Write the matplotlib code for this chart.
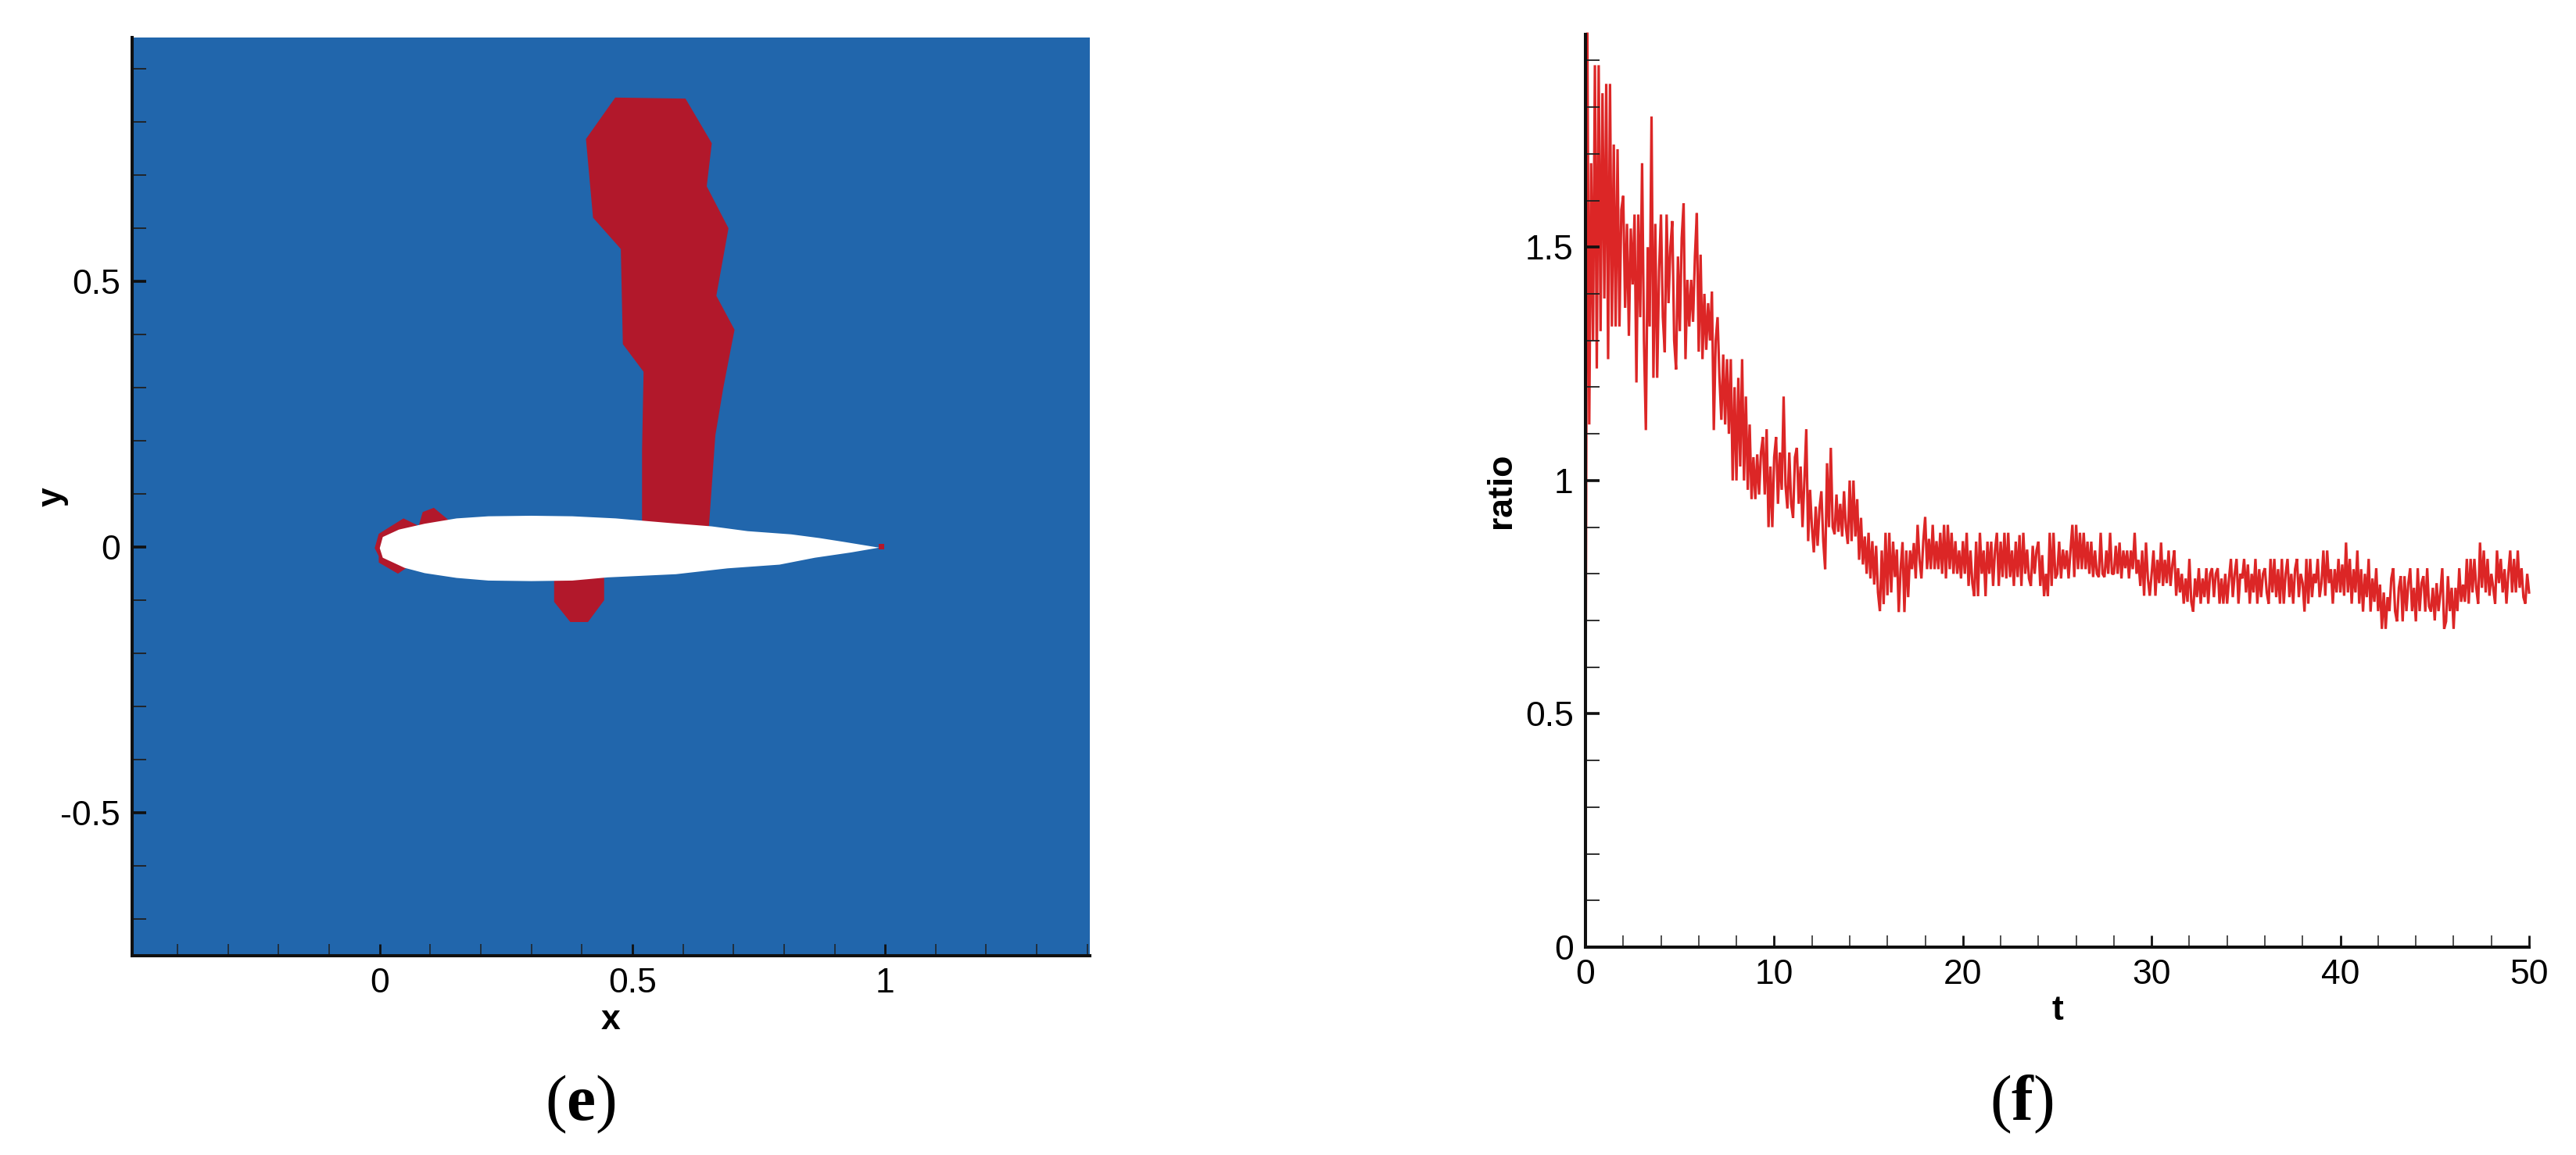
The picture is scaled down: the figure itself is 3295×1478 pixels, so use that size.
import numpy as np
from matplotlib import pyplot as plt
from matplotlib.ticker import FixedLocator

plt.rcParams['font.family'] = ['Liberation Sans', 'DejaVu Sans']
plt.rcParams['mathtext.fontset'] = 'custom'
plt.rcParams['mathtext.rm'] = 'Liberation Serif'
plt.rcParams['mathtext.bf'] = 'Liberation Serif:bold'

# left panel, contour regions in x/c, y/c
plume_x = [0.466, 0.605, 0.657, 0.647, 0.690, 0.666, 0.702, 0.680, 0.664, 0.651, 0.519, 0.519, 0.522, 0.481, 0.477, 0.422, 0.408]
plume_y = [0.846, 0.844, 0.760, 0.679, 0.600, 0.473, 0.409, 0.301, 0.210, 0.034, 0.034, 0.182, 0.330, 0.382, 0.561, 0.620, 0.768]
nose_x = [-0.010, -0.002, 0.047, 0.077, 0.085, 0.107, 0.136, 0.057, 0.053, 0.036, -0.002, -0.002]
nose_y = [-0.002, 0.025, 0.054, 0.040, 0.066, 0.074, 0.051, 0.000, -0.039, -0.050, -0.029, -0.017]
lower_x = [0.345, 0.345, 0.377, 0.412, 0.444, 0.444]
lower_y = [-0.059, -0.103, -0.141, -0.141, -0.100, -0.056]
tail_x = [0.988, 0.998, 0.998, 0.988]
tail_y = [-0.004, -0.004, 0.006, 0.006]
foil_x = [0.000, 0.006, 0.038, 0.089, 0.152, 0.215, 0.300, 0.381, 0.467, 0.578, 0.657, 0.728, 0.814, 0.870, 0.917, 0.988,
          0.933, 0.861, 0.791, 0.688, 0.586, 0.451, 0.381, 0.300, 0.215, 0.152, 0.089, 0.049, 0.006]
foil_y = [-0.002, 0.019, 0.033, 0.044, 0.054, 0.058, 0.059, 0.058, 0.054, 0.045, 0.039, 0.030, 0.024, 0.017, 0.010, -0.001,
          -0.010, -0.020, -0.033, -0.040, -0.051, -0.057, -0.063, -0.064, -0.063, -0.058, -0.049, -0.039, -0.020]

# right panel, one value every 0.1 in t
ratio = [
    .40, 1.96, 1.12, 1.68, 1.30, 1.89, 1.24, 1.89, 1.32, 1.83,
    1.39, 1.85, 1.26, 1.85, 1.33, 1.72, 1.33, 1.71, 1.33, 1.58,
    1.61, 1.37, 1.55, 1.31, 1.54, 1.42, 1.57, 1.21, 1.57, 1.35,
    1.68, 1.30, 1.108, 1.50, 1.33, 1.78, 1.22, 1.55, 1.22, 1.45,
    1.57, 1.35, 1.275, 1.57, 1.38, 1.50, 1.556, 1.30, 1.238, 1.48,
    1.32, 1.52, 1.594, 1.26, 1.43, 1.33, 1.43, 1.34, 1.48, 1.573,
    1.276, 1.484, 1.26, 1.40, 1.28, 1.38, 1.30, 1.405, 1.108, 1.30,
    1.35, 1.22, 1.13, 1.27, 1.12, 1.26, 1.10, 1.26, 1.00, 1.20,
    1.00, 1.22, 1.03, 1.26, 1.00, 1.18, .98, 1.12, .96, 1.05,
    .96, 1.056, .97, 1.06, 1.093, .97, 1.11, .90, 1.03, .90,
    1.05, 1.093, .95, 1.06, .98, 1.18, .99, .94, 1.06, .95,
    .92, 1.05, 1.07, .95, 1.03, .90, 1.00, 1.11, .87, .98,
    .90, .846, .944, .86, .94, .977, .87, .81, 1.037, .90,
    1.07, .90, .885, .97, .89, .95, .88, .977, .90, .864,
    1.00, .87, 1.00, .88, .96, .83, .92, .82, .88, .80,
    .888, .79, .87, .777, .86, .76, .72, .85, .735, .888,
    .754, .888, .76, .869, .793, .852, .718, .81, .868, .718,
    .85, .75, .85, .81, .866, .79, .905, .83, .79, .87,
    .922, .81, .875, .81, .905, .81, .87, .81, .888, .80,
    .905, .79, .905, .81, .888, .80, .87, .80, .85, .79,
    .87, .80, .888, .774, .85, .78, .752, .869, .752, .888,
    .80, .85, .752, .869, .80, .869, .774, .85, .888, .774,
    .869, .793, .888, .79, .888, .793, .85, .774, .869, .793,
    .883, .774, .888, .80, .852, .79, .774, .86, .80, .85,
    .869, .774, .84, .752, .80, .752, .888, .774, .888, .79,
    .80, .869, .79, .852, .81, .85, .79, .85, .905, .793,
    .905, .81, .888, .81, .888, .81, .869, .80, .869, .793,
    .85, .80, .793, .888, .80, .793, .85, .80, .888, .80,
    .80, .86, .80, .867, .79, .85, .812, .85, .79, .85,
    .81, .888, .80, .83, .774, .85, .753, .867, .79, .753,
    .80, .85, .753, .83, .78, .867, .774, .83, .78, .85,
    .774, .82, .85, .753, .812, .76, .80, .736, .79, .74,
    .832, .74, .719, .79, .75, .812, .736, .79, .75, .812,
    .736, .80, .812, .75, .80, .812, .736, .79, .736, .80,
    .736, .79, .832, .75, .80, .832, .736, .80, .79, .832,
    .76, .82, .736, .80, .76, .832, .736, .81, .75, .80,
    .812, .76, .736, .832, .76, .832, .75, .81, .736, .832,
    .736, .80, .832, .75, .80, .736, .81, .832, .75, .80,
    .78, .719, .832, .736, .832, .75, .80, .78, .832, .75,
    .78, .85, .753, .85, .78, .81, .736, .81, .76, .832,
    .76, .82, .753, .867, .76, .832, .736, .81, .76, .85,
    .736, .81, .719, .80, .75, .832, .719, .79, .74, .812,
    .72, .777, .682, .76, .682, .75, .72, .79, .812, .72,
    .698, .77, .795, .698, .795, .72, .78, .812, .72, .77,
    .698, .812, .72, .78, .795, .719, .812, .73, .719, .77,
    .70, .78, .72, .76, .812, .682, .698, .795, .72, .77,
    .682, .77, .72, .812, .74, .777, .74, .832, .736, .832,
    .76, .832, .77, .736, .867, .77, .85, .76, .832, .753,
    .80, .77, .736, .85, .78, .832, .76, .81, .736, .80,
    .85, .76, .832, .76, .85, .77, .812, .75, .736, .80,
    .76,
]
t = np.arange(len(ratio)) * 0.1

x_major = [0, 0.5, 1]
x_labels = ['0', '0.5', '1']
x_minor = [-0.4, -0.3, -0.2, -0.1, 0.1, 0.2, 0.3, 0.4, 0.6, 0.7, 0.8, 0.9, 1.1, 1.2, 1.3, 1.4]
y_major = [-0.5, 0, 0.5]
y_labels = ['-0.5', '0', '0.5']
y_minor = [-0.7, -0.6, -0.4, -0.3, -0.2, -0.1, 0.1, 0.2, 0.3, 0.4, 0.6, 0.7, 0.8, 0.9]
t_major = [0, 10, 20, 30, 40, 50]
t_labels = ['0', '10', '20', '30', '40', '50']
t_minor = [2, 4, 6, 8, 12, 14, 16, 18, 22, 24, 26, 28, 32, 34, 36, 38, 42, 44, 46, 48]
r_major = [0, 0.5, 1, 1.5]
r_labels = ['0', '0.5', '1', '1.5']
r_minor = [0.1, 0.2, 0.3, 0.4, 0.6, 0.7, 0.8, 0.9, 1.1, 1.2, 1.3, 1.4, 1.6, 1.7, 1.8, 1.9]

W, H = 3295, 1478
BLUE = '#2166ac'
RED = '#b2182b'
LINE = '#d60000'


def px_axes(fig, left, right, top, bottom):
    return fig.add_axes([left / W, 1 - bottom / H, (right - left) / W, (bottom - top) / H])


def style(ax, xmaj, xlab, xmin, ymaj, ylab, ymin):
    for side in ['top', 'right']:
        ax.spines[side].set_visible(False)
    for side in ['left', 'bottom']:
        ax.spines[side].set_linewidth(2.9)
        ax.spines[side].set_color('#101010')
    ax.set_xticks(xmaj, xlab)
    ax.set_yticks(ymaj, ylab)
    ax.xaxis.set_minor_locator(FixedLocator(xmin))
    ax.yaxis.set_minor_locator(FixedLocator(ymin))
    ax.tick_params(axis='x', which='major', direction='in', length=11, width=2.0, pad=11, labelsize=32, color='#101010')
    ax.tick_params(axis='x', which='minor', direction='in', length=11, width=1.1, color='#202020')
    ax.tick_params(axis='y', which='major', direction='in', length=13, width=2.6, pad=11, labelsize=32, color='#101010')
    ax.tick_params(axis='y', which='minor', direction='in', length=13, width=1.3, color='#202020')


fig = plt.figure(figsize=(W / 100, H / 100), dpi=100, facecolor='white')

ax1 = px_axes(fig, 169, 1394, 48, 1223)
ax1.set_facecolor(BLUE)
ax1.fill(plume_x, plume_y, color=RED, lw=0)
ax1.fill(nose_x, nose_y, color=RED, lw=0)
ax1.fill(lower_x, lower_y, color=RED, lw=0)
ax1.fill(tail_x, tail_y, color=RED, lw=0)
ax1.fill(foil_x, foil_y, color='white', lw=0)
ax1.set_xlim(-0.49, 1.405)
ax1.set_ylim(-0.769, 0.959)
style(ax1, x_major, x_labels, x_minor, y_major, y_labels, y_minor)
ax1.set_xlabel('x', fontsize=32, fontweight='bold')
ax1.set_ylabel('y', fontsize=32, fontweight='bold')
ax1.xaxis.set_label_coords(0.5, -0.053)
ax1.yaxis.set_label_coords(-0.066, 0.5)

ax2 = px_axes(fig, 2028, 3235, 44, 1212)
ax2.plot(t, ratio, color=LINE, lw=2.3, alpha=0.85, clip_on=False, solid_joinstyle='bevel', zorder=1.5)
ax2.set_xlim(0, 50)
ax2.set_ylim(0, 1.956)
style(ax2, t_major, t_labels, t_minor, r_major, r_labels, r_minor)
ax2.set_xlabel('t', fontsize=32, fontweight='bold')
ax2.set_ylabel('ratio', fontsize=32, fontweight='bold')
ax2.xaxis.set_label_coords(0.5, -0.052)
ax2.yaxis.set_label_coords(-0.072, 0.5)

fig.text(742 / W, 1 - 1413 / H, r'($\mathbf{e}$)', fontsize=60, ha='center', va='center', family='Liberation Serif')
fig.text(2586 / W, 1 - 1413 / H, r'($\mathbf{f}$)', fontsize=60, ha='center', va='center', family='Liberation Serif')

fig.savefig('out.png', dpi=100)
